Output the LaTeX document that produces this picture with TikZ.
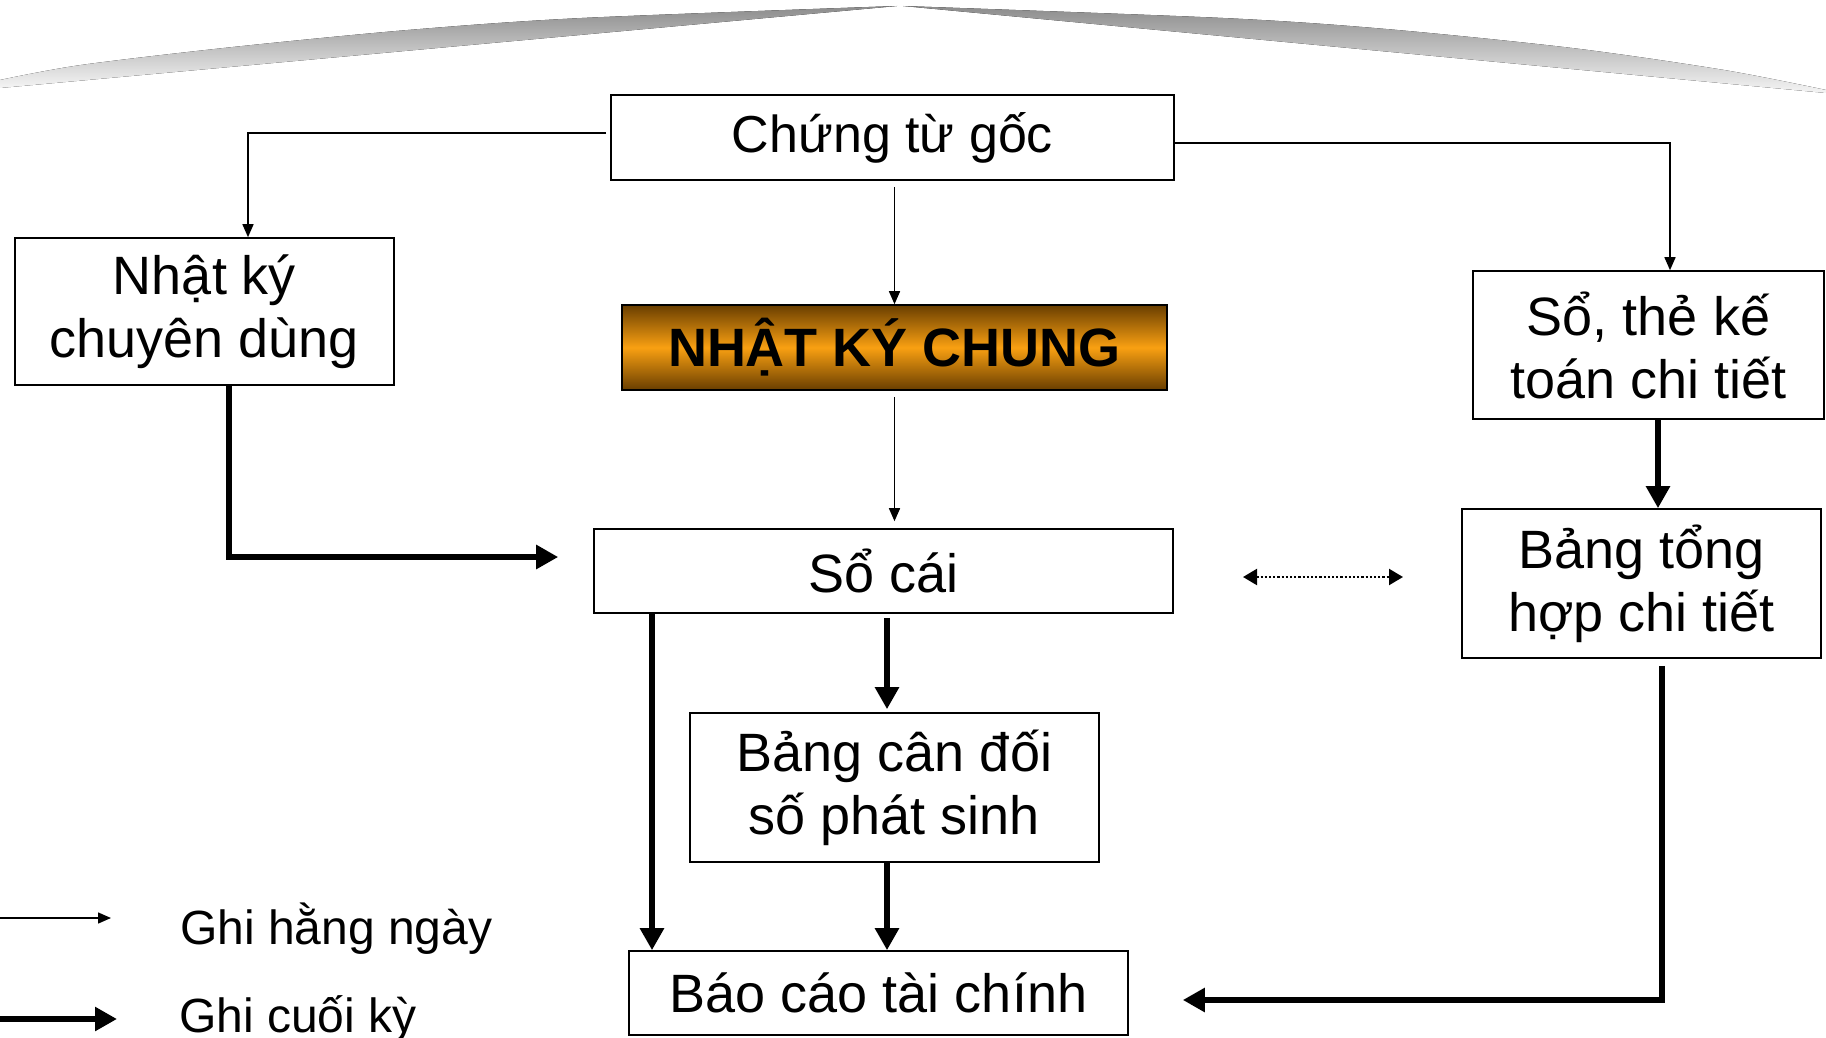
\documentclass[tikz,border=0pt]{standalone}
\usepackage{fontspec}
\setmainfont{Liberation Sans}
\usetikzlibrary{arrows.meta}

\tikzset{
  box/.style={draw=black, line width=1.6pt, fill=white, inner sep=0pt, align=center,
              font=\fontsize{54}{63}\selectfont},
  thinarr/.style={line width=1.5pt, -{Triangle[length=13pt,width=11pt]}},
  thickarr/.style={line width=6.5pt, -{Triangle[length=22pt,width=23pt]}},
  dotarr/.style={line width=2.2pt, dotted, {Triangle[length=14pt,width=16pt]}-{Triangle[length=14pt,width=16pt]}},
  legendtext/.style={anchor=base west, inner sep=0pt, font=\fontsize{48}{56}\selectfont},
  swoosh/.style={top color=black!45, bottom color=black!4, draw=none}
}

\begin{document}
\begin{tikzpicture}[x=1pt,y=-1pt]
  \useasboundingbox (0,0) rectangle (1826,1038);

  % decorative swoosh along the top
  \fill[swoosh] plot[smooth] coordinates {(897,6) (582,18) (408,30) (233,47) (81,65) (0,80)} -- (0,88) -- cycle;
  \fill[swoosh] plot[smooth] coordinates {(903,6) (1223,18) (1386,29) (1572,48) (1724,70) (1826,90)} -- (1826,93) -- cycle;

  % boxes
  \node[box, minimum width=563pt, minimum height=85pt, font=\fontsize{52}{63}\selectfont] (ctg) at (892.5,137.5) {Chứng từ gốc};
  \node[box, minimum width=379pt, minimum height=147pt] (nkcd) at (204.5,311.5) {Nhật ký\\chuyên dùng};
  \node[box, minimum width=545pt, minimum height=85pt,
        top color={rgb,255:red,105;green,62;blue,0},
        bottom color={rgb,255:red,105;green,62;blue,0},
        middle color={rgb,255:red,249;green,160;blue,18},
        font=\fontsize{54}{63}\selectfont\bfseries] (nkc) at (894.5,347.5) {NHẬT KÝ CHUNG};
  \node[box, minimum width=579pt, minimum height=84pt] (socai) at (883.5,571) {Sổ cái};
  \node[box, minimum width=351pt, minimum height=148pt] (sothe) at (1648.5,345) {Sổ, thẻ kế\\toán chi tiết};
  \node[box, minimum width=359pt, minimum height=149pt] (bth) at (1641.5,583.5) {Bảng tổng\\hợp chi tiết};
  \node[box, minimum width=409pt, minimum height=149pt] (bcd) at (894.5,787.5) {Bảng cân đối\\số phát sinh};
  \node[box, minimum width=499pt, minimum height=84pt] (bctc) at (878.5,993) {Báo cáo tài chính};

  % daily entries
  \draw[thinarr] ([xshift=-4pt,yshift=4.5pt]ctg.west) -| ([xshift=43.5pt]nkcd.north);
  \draw[thinarr] ([yshift=-6pt]ctg.south -| nkc.north) -- (nkc.north);
  \draw[thinarr] ([yshift=-5.5pt]ctg.east) -| ([xshift=21.5pt]sothe.north);
  \draw[thinarr, shorten <=6pt, shorten >=7pt] (nkc.south) -- (nkc.south |- socai.north);

  % end-of-period entries
  \coordinate (sc-in) at ([xshift=-35pt,yshift=14pt]socai.west);
  \draw[thickarr] ([xshift=24.5pt]nkcd.south) |- (sc-in);
  \draw[thickarr, shorten <=4pt, shorten >=3pt] ([xshift=3.5pt]socai.south) -- ([xshift=3.5pt]socai.south |- bcd.north);
  \draw[thickarr] ([xshift=-231.5pt]socai.south) -- ([xshift=-231.5pt]socai.south |- bctc.north);
  \draw[thickarr] ([xshift=-7.5pt]bcd.south) -- ([xshift=-7.5pt]bcd.south |- bctc.north);
  \draw[thickarr] ([xshift=9.5pt]sothe.south) -- ([xshift=9.5pt]sothe.south |- bth.north);
  \coordinate (bc-in) at ([xshift=54pt,yshift=-7pt]bctc.east);
  \draw[thickarr, shorten <=7pt] ([xshift=20.5pt]bth.south) |- (bc-in);

  % cross-check between ledger and detail summary
  \coordinate (d1) at (1243,577);
  \coordinate (d2) at (1403,577);
  \draw[dotarr] (d1) -- (d2);

  % legend
  \coordinate (la1) at (0,918);
  \coordinate (la2) at (111,918);
  \draw[thinarr] (la1) -- (la2);
  \node[legendtext] (lt1) at (180,944) {Ghi hằng ngày};
  \coordinate (lb1) at (0,1019);
  \coordinate (lb2) at (117,1019);
  \draw[thickarr] (lb1) -- (lb2);
  \node[legendtext] (lt2) at (179,1032) {Ghi cuối kỳ};
\end{tikzpicture}
\end{document}
